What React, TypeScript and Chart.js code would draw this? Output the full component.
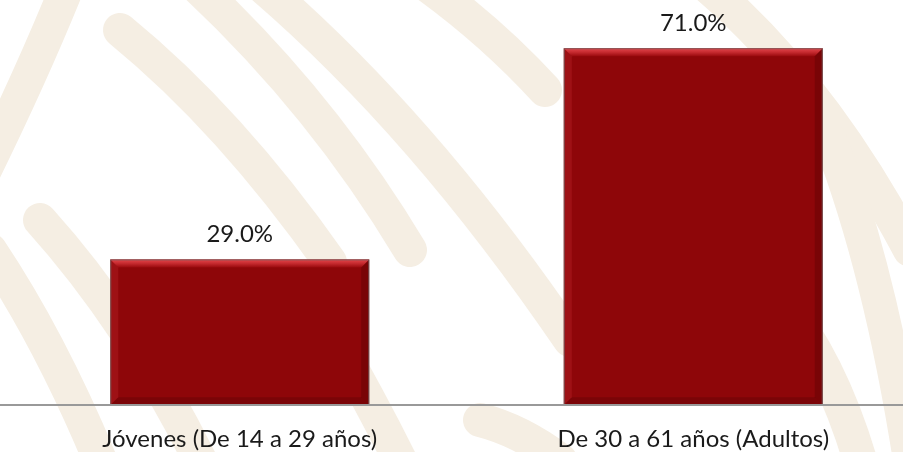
import React, { useEffect, useRef } from "react";
import { Chart, registerables } from "chart.js";

Chart.register(...registerables);

const categories = ["Jóvenes (De 14 a 29 años)", "De 30 a 61 años (Adultos)"];
const values = [29.0, 71.0];
const valueLabels = ["29.0%", "71.0%"];

const FONT = "Lato, 'Open Sans', sans-serif";

// decorative watermark strokes (background only, not data)
const watermark: number[][] = [
  [-30, 200, 30, 80, 70, -20],
  [120, 30, 230, 120, 330, 262],
  [190, -20, 320, 100, 410, 250],
  [255, -20, 420, 120, 570, 340],
  [420, -20, 490, 30, 545, 90],
  [700, -20, 820, 80, 910, 250],
  [830, 140, 880, 270, 910, 460],
  [-10, 250, 50, 340, 100, 460],
  [40, 220, 130, 320, 200, 460],
  [330, 330, 370, 400, 400, 460],
  [480, 420, 520, 430, 560, 460],
  [780, 300, 830, 360, 860, 460],
];

const bgPlugin = {
  id: "bg",
  beforeDraw(chart: any) {
    const ctx = chart.ctx;
    ctx.save();
    ctx.fillStyle = "#ffffff";
    ctx.fillRect(0, 0, chart.width, chart.height);
    ctx.strokeStyle = "#f5eee3";
    ctx.lineWidth = 34;
    ctx.lineCap = "round";
    watermark.forEach((w) => {
      ctx.beginPath();
      ctx.moveTo(w[0], w[1]);
      ctx.quadraticCurveTo(w[2], w[3], w[4], w[5]);
      ctx.stroke();
    });
    ctx.restore();
  },
};

const bevelPlugin = {
  id: "bevel",
  afterDatasetsDraw(chart: any) {
    const ctx = chart.ctx;
    const meta = chart.getDatasetMeta(0);
    meta.data.forEach((bar: any, i: number) => {
      const { x, y, base, width } = bar.getProps(["x", "y", "base", "width"], true);
      const l = x - width / 2;
      const r = x + width / 2;
      const t = y;
      const b = base;
      const d = 8;
      ctx.save();
      // top bevel
      const gTop = ctx.createLinearGradient(0, t, 0, t + d);
      gTop.addColorStop(0, "#e4474d");
      gTop.addColorStop(0.5, "#c52a2f");
      gTop.addColorStop(1, "#9a0a0e");
      ctx.fillStyle = gTop;
      ctx.beginPath();
      ctx.moveTo(l, t);
      ctx.lineTo(r, t);
      ctx.lineTo(r - d, t + d);
      ctx.lineTo(l + d, t + d);
      ctx.closePath();
      ctx.fill();
      // left bevel
      ctx.fillStyle = "rgba(190,40,45,0.35)";
      ctx.beginPath();
      ctx.moveTo(l, t);
      ctx.lineTo(l + d, t + d);
      ctx.lineTo(l + d, b - d);
      ctx.lineTo(l, b);
      ctx.closePath();
      ctx.fill();
      // right bevel
      ctx.fillStyle = "rgba(60,0,0,0.25)";
      ctx.beginPath();
      ctx.moveTo(r, t);
      ctx.lineTo(r - d, t + d);
      ctx.lineTo(r - d, b - d);
      ctx.lineTo(r, b);
      ctx.closePath();
      ctx.fill();
      // bottom bevel
      ctx.fillStyle = "rgba(60,0,0,0.22)";
      ctx.beginPath();
      ctx.moveTo(l, b);
      ctx.lineTo(l + d, b - d);
      ctx.lineTo(r - d, b - d);
      ctx.lineTo(r, b);
      ctx.closePath();
      ctx.fill();
      // outline
      ctx.strokeStyle = "rgba(110,95,95,0.8)";
      ctx.lineWidth = 1;
      ctx.strokeRect(l + 0.5, t + 0.5, width - 1, b - t - 1);
      // value label
      ctx.fillStyle = "#1a1a1a";
      ctx.font = `24px ${FONT}`;
      ctx.textAlign = "center";
      ctx.textBaseline = "alphabetic";
      ctx.fillText(valueLabels[i], x, t - 17);
      ctx.restore();
    });
  },
};

const axisLinePlugin = {
  id: "axisLine",
  afterDraw(chart: any) {
    const ctx = chart.ctx;
    const yPix = Math.round(chart.scales.y.getPixelForValue(0));
    ctx.save();
    ctx.strokeStyle = "#999999";
    ctx.lineWidth = 2;
    ctx.beginPath();
    ctx.moveTo(0, yPix);
    ctx.lineTo(chart.width, yPix);
    ctx.stroke();
    ctx.restore();
  },
};

export default function App() {
  const ref = useRef<HTMLCanvasElement>(null);
  useEffect(() => {
    document.body.style.margin = "0";
    document.body.style.overflow = "hidden";
    const chart = new Chart(ref.current!, {
      type: "bar",
      data: {
        labels: categories,
        datasets: [
          {
            data: values,
            backgroundColor: "#8e0609",
            borderWidth: 0,
            categoryPercentage: 1,
            barPercentage: 0.571,
          },
        ],
      },
      options: {
        animation: false,
        responsive: true,
        maintainAspectRatio: false,
        layout: { padding: { top: 3, left: 13, right: 0, bottom: 0 } },
        plugins: { legend: { display: false }, tooltip: { enabled: false } },
        scales: {
          x: {
            grid: { display: false, drawTicks: false },
            border: { display: false },
            ticks: {
              color: "#1a1a1a",
              font: { size: 24, family: FONT },
              padding: 20,
            },
          },
          y: { display: false, min: 0, max: 80 },
        },
      },
      plugins: [bgPlugin, bevelPlugin, axisLinePlugin],
    });
    return () => chart.destroy();
  }, []);
  return (
    <div style={{ position: "fixed", left: 0, top: 0, width: 903, height: 452, overflow: "hidden", background: "#ffffff" }}>
      <div style={{ position: "absolute", left: 0, top: 0, width: 920, height: 474 }}>
        <canvas ref={ref} />
      </div>
    </div>
  );
}
